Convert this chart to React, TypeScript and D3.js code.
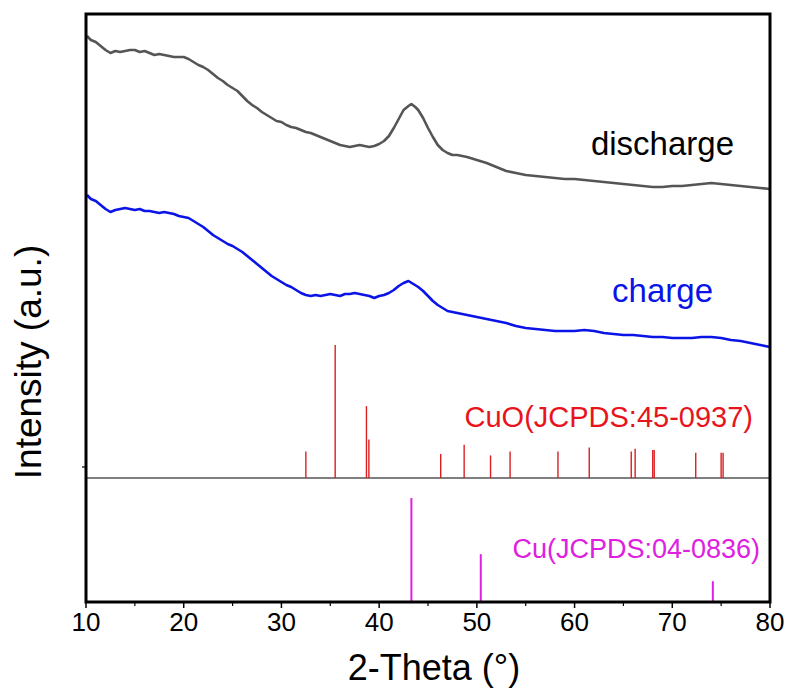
import React from "react";
import * as d3 from "d3";

// ---- data ----
const dischargeTheta = [10.1,10.5,11,11.5,12,12.5,13,13.5,14,14.5,15,15.5,16,16.5,17,17.5,18,18.5,19,19.5,20,20.5,21,21.5,22,22.5,23,23.5,24,24.5,25,25.5,26,26.5,27,27.5,28,28.5,29,29.5,30,30.5,31,31.5,32,32.5,33,33.5,34,34.5,35,35.5,36,36.5,37,37.5,38,38.5,39,39.5,40,40.5,41,41.5,42,42.5,43,43.3,43.7,44,44.5,45,45.5,46,46.5,47,47.5,48,49,50,51,52,53,54,55,56,57,58,59,60,61,62,63,64,65,66,67,68,69,70,71,72,73,74,75,76,77,78,79,80];
const dischargeIntensity = [566,562,560,556,552,549,551,550,551,552,552,550,551,549,547,548,547,546,545,545,545,543,540,537,535,532,528,524,521,517,514,511,506,501,497,494,490,487,484,481,480,477,475,474,472,470,469,467,465,463,461,459,457,456,455,456,457,456,455,456,458,461,466,474,483,492,496,498,495,492,484,474,465,457,452,449,447,447,445,442,439,435,431,429,427,426,425,424,423,423,422,421,420,419,418,417,416,415,415,416,416,417,418,419,418,417,416,415,414,413];

const chargeTheta = [10.1,10.5,11,11.5,12,12.5,13,13.5,14,14.5,15,15.5,16,16.5,17,17.5,18,18.5,19,19.5,20,20.5,21,21.5,22,22.5,23,23.5,24,24.5,25,25.5,26,26.5,27,27.5,28,28.5,29,29.5,30,30.5,31,31.5,32,32.5,33,33.5,34,34.5,35,35.5,36,36.5,37,37.5,38,38.5,39,39.5,40,40.5,41,41.5,42,42.5,43,43.5,44,44.5,45,45.5,46,46.5,47,47.5,48,49,50,51,52,53,54,55,56,57,58,59,60,61,62,63,64,65,66,67,68,69,70,71,72,73,74,75,76,77,78,79,80];
const chargeIntensity = [407,403,401,397,393,390,392,393,394,393,392,393,391,391,390,389,390,389,388,386,385,384,381,378,375,371,367,364,361,358,356,353,350,346,342,338,334,330,326,323,320,317,315,312,309,307,306,307,306,307,308,307,306,308,308,309,308,307,306,304,306,307,309,312,316,319,321,318,315,311,306,301,297,294,291,290,289,287,285,283,281,279,276,274,273,272,271,271,271,272,271,269,268,267,267,266,265,265,264,264,264,265,265,264,262,261,259,257,255];

const cuoTheta = [32.5,35.5,38.7,38.95,46.3,48.7,51.4,53.4,58.3,61.5,65.8,66.2,68.0,68.15,72.4,75.0,75.2];
const cuoRel = [20,100,54,29,18,25,17,20,20,23,20,22,21,21,19,19,19];

const cuTheta = [43.3,50.4,74.15];
const cuRel = [100,46,20];

const xTicksMajor = [10,20,30,40,50,60,70,80];
const xTicksMinor = [15,25,35,45,55,65,75];

const FONT = "'Liberation Sans', Arial, sans-serif";

export default function App() {
  const left = 86, right = 770, top = 14, bottom = 602;
  const x = d3.scaleLinear().domain([10, 80]).range([left, right]);
  const y = d3.scaleLinear().domain([0, 588]).range([bottom, top]);
  const cuoBase = 478;
  const yCuO = d3.scaleLinear().domain([0, 100]).range([cuoBase, 345]);
  const yCu = d3.scaleLinear().domain([0, 100]).range([bottom, 498]);

  const line = d3.line<[number, number]>().x(d => x(d[0])).y(d => y(d[1])).curve(d3.curveLinear);
  const dis = line(dischargeTheta.map((t, i) => [t, dischargeIntensity[i]]) as [number, number][]) || "";
  const chg = line(chargeTheta.map((t, i) => [t, chargeIntensity[i]]) as [number, number][]) || "";

  return (
    <svg width={789} height={688} style={{ position: "absolute", left: 0, top: 0, background: "#fff" }} fontFamily={FONT}>
      <rect x={0} y={0} width={789} height={688} fill="#fff" />
      <defs>
        <clipPath id="plotclip"><rect x={left} y={top} width={right - left} height={bottom - top} /></clipPath>
      </defs>
      <g clipPath="url(#plotclip)">
        <path d={dis} fill="none" stroke="#555555" strokeWidth={2.6} strokeLinejoin="round" />
        <path d={chg} fill="none" stroke="#0a14e6" strokeWidth={2.6} strokeLinejoin="round" />
        <line x1={left} x2={right} y1={cuoBase} y2={cuoBase} stroke="#555" strokeWidth={1.6} />
        {cuoTheta.map((t, i) => (
          <line key={"cuo" + i} x1={x(t)} x2={x(t)} y1={cuoBase} y2={yCuO(cuoRel[i])} stroke="#d92020" strokeWidth={1.4} />
        ))}
        {cuTheta.map((t, i) => (
          <line key={"cu" + i} x1={x(t)} x2={x(t)} y1={bottom} y2={yCu(cuRel[i])} stroke="#e020e0" strokeWidth={2} />
        ))}
      </g>
      {/* ticks */}
      {xTicksMajor.map(t => (
        <line key={"M" + t} x1={x(t)} x2={x(t)} y1={bottom} y2={bottom + 6} stroke="#000" strokeWidth={1.5} />
      ))}
      {xTicksMinor.map(t => (
        <line key={"m" + t} x1={x(t)} x2={x(t)} y1={bottom} y2={bottom + 4} stroke="#000" strokeWidth={1.2} />
      ))}
      <line x1={left - 4} x2={left} y1={467} y2={467} stroke="#000" strokeWidth={1.2} />
      {xTicksMajor.map(t => (
        <text key={"L" + t} x={x(t)} y={631} fontSize={26} textAnchor="middle" fill="#000">{t}</text>
      ))}
      {/* frame */}
      <rect x={left} y={top} width={right - left} height={bottom - top} fill="none" stroke="#000" strokeWidth={3} />
      {/* labels */}
      <text x={734} y={155} fontSize={33} textAnchor="end" fill="#000">discharge</text>
      <text x={713} y={302} fontSize={33} textAnchor="end" fill="#0a14e6">charge</text>
      <text x={753} y={427} fontSize={29} textAnchor="end" fill="#e8141c">CuO(JCPDS:45-0937)</text>
      <text x={760} y={558} fontSize={27} textAnchor="end" fill="#e020e0">Cu(JCPDS:04-0836)</text>
      <text x={434} y={680} fontSize={36} textAnchor="middle" fill="#000">2-Theta (°)</text>
      <text transform="translate(41,362) rotate(-90)" fontSize={37} textAnchor="middle" fill="#000">Intensity (a.u.)</text>
    </svg>
  );
}
